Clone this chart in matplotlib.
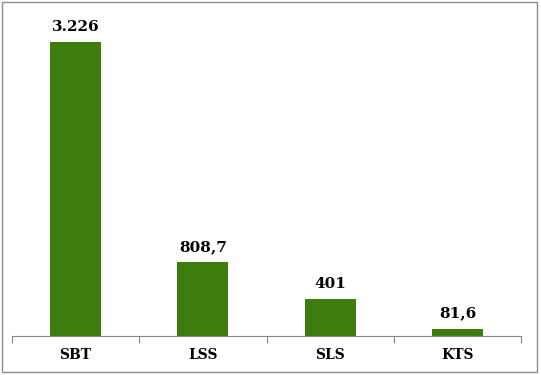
import matplotlib.pyplot as plt
from matplotlib.patches import Rectangle

categories = ["SBT", "LSS", "SLS", "KTS"]
values = [3226, 808.7, 401, 81.6]
value_labels = ["3.226", "808,7", "401", "81,6"]

fig = plt.figure(figsize=(5.41, 3.75), dpi=100)
ax = fig.add_axes([12 / 541, 1 - 336 / 375, (521 - 12) / 541, (336 - 17) / 375])

x = list(range(len(categories)))
ax.bar(x, values, width=0.4, color="#3c7d0e")
ax.set_xlim(-0.5, len(categories) - 0.5)
ax.set_ylim(0, 3500)

for xi, v, lab in zip(x, values, value_labels):
    ax.annotate(lab, (xi, v), xytext=(0, 6), textcoords="offset points",
                ha="center", va="bottom", fontsize=11, fontweight="bold",
                family="DejaVu Serif")

for side in ["top", "right", "left"]:
    ax.spines[side].set_visible(False)
ax.spines["bottom"].set_color("#868686")
ax.set_yticks([])
ax.set_xticks([i - 0.5 for i in range(len(categories) + 1)])
ax.set_xticklabels([])
ax.tick_params(axis="x", length=5, color="#868686")
for xi, c in zip(x, categories):
    ax.text(xi, -0.058, c, transform=ax.get_xaxis_transform(), ha="center",
            va="center", fontsize=10, fontweight="bold", family="DejaVu Serif")

fig.patches.append(Rectangle((2 / 541, 3 / 375), 535 / 541, 370 / 375,
                             transform=fig.transFigure, fill=False,
                             edgecolor="#8c8c8c", linewidth=1))

fig.savefig("out.png", dpi=100)
